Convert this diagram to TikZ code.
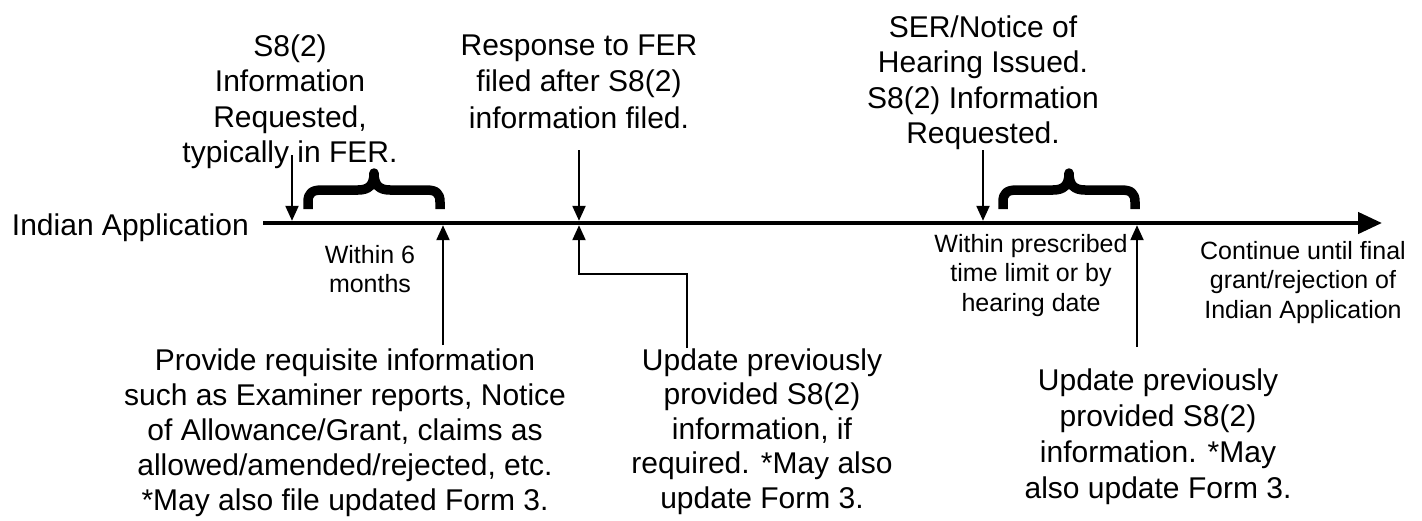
\documentclass[tikz,border=0pt]{standalone}
\usepackage{fontspec}
\setmainfont{Liberation Sans}
\usetikzlibrary{arrows.meta}
% centred multi-line label whose baseline is that of its first line
\newcommand\stk[1]{\begin{tabular}[t]{@{}c@{}}#1\end{tabular}}

\begin{document}
\begin{tikzpicture}[x=1pt,y=-1pt,
  lbl/.style={inner sep=0pt, anchor=base},
  txtA/.style={font=\fontsize{30}{35.5}\selectfont},
  txtB/.style={font=\fontsize{30}{36.5}\selectfont},
  txtC/.style={font=\fontsize{30}{35}\selectfont},
  txtD/.style={font=\fontsize{30}{34.5}\selectfont},
  txtE/.style={font=\fontsize{30}{36}\selectfont},
  small/.style={font=\fontsize{25}{29.5}\selectfont},
  axis/.style={line width=4.5pt, -{Triangle[length=24pt,width=21pt]}},
  ptr/.style={line width=2.2pt, -{Triangle[length=15pt,width=13pt]}, shorten >=2.2pt},
  bracestroke/.style={line width=9.5pt, line cap=butt, line join=round},
  curly/.pic={\draw[bracestroke] (-66,209) -- (-66,202)
      .. controls (-66,193) and (-62,190) .. (-52,190) -- (-16,190)
      .. controls (-5,190) and (0,185) .. (0,173)
      .. controls (0,185) and (5,190) .. (16,190) -- (52,190)
      .. controls (62,190) and (66,193) .. (66,202) -- (66,209);}
]
\useasboundingbox (0,0) rectangle (1422,520);

% timeline
\node[lbl, anchor=base east, txtA] (app) at (249,235) {Indian Application};
\coordinate (a0) at (263,223);
\coordinate (a1) at (1382,223);
\draw[axis] (a0) -- (a1);

% points on the timeline
\coordinate (m1) at (292,223);
\coordinate (m2) at (443,223);
\coordinate (m3) at (579,223);
\coordinate (m4) at (983,223);
\coordinate (m5) at (1137,223);

% labels above the timeline
\node[lbl, txtA] (req1) at (290,56) {\stk{S8(2)\\Information\\Requested,\\typically in FER.}};
\node[lbl, txtB] (resp) at (579,55) {\stk{Response to FER\\filed after S8(2)\\information filed.}};
\node[lbl, txtA] (ser) at (983,37) {\stk{SER/Notice of\\Hearing Issued.\\S8(2) Information\\Requested.}};

% labels just below the timeline
\node[lbl, small] (six) at (370,263) {\stk{Within 6\\months}};
\node[lbl, small] (limit) at (1031,252) {\stk{Within prescribed\\time limit or by\\hearing date}};
\node[lbl, small] (cont) at (1303,259) {\stk{Continue until final\\grant/rejection of\\Indian Application}};

% actions
\node[lbl, txtC] (prov) at (345,370) {\stk{Provide requisite information\\such as Examiner reports, Notice\\of Allowance/Grant, claims as\\allowed/amended/rejected, etc.\\{*}May also file updated Form 3.}};
\node[lbl, txtD] (upd1) at (762,370) {\stk{Update previously\\provided S8(2)\\information, if\\required. *May also\\update Form 3.}};
\node[lbl, txtE] (upd2) at (1158,390) {\stk{Update previously\\provided S8(2)\\information. *May\\also update Form 3.}};

% periods
\pic at (374,0) {curly};
\pic at (1069,0) {curly};

% arrow ends
\coordinate (d1) at (292,155);
\coordinate (d3) at (579,150);
\coordinate (d4) at (983,150);
\coordinate (u2) at (443,345);
\coordinate (u3) at (687,348);
\coordinate (k3) at (579,274);
\coordinate (u5) at (1137,347);

\draw[ptr] (d1) -- (m1);
\draw[ptr] (d3) -- (m3);
\draw[ptr] (d4) -- (m4);
\draw[ptr] (u2) -- (m2);
\draw[ptr] (u3) |- (k3) -- (m3);
\draw[ptr] (u5) -- (m5);
\end{tikzpicture}
\end{document}
